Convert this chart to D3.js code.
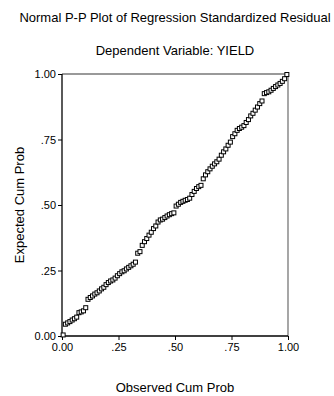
<!DOCTYPE html>
<html><head><meta charset="utf-8">
<script src="https://cdn.jsdelivr.net/npm/d3@7"></script>
<style>body{margin:0;background:#fff}svg{display:block}text{font-family:"Liberation Sans",Arial,sans-serif;fill:#000}</style>
</head><body><svg id="c" width="334" height="396"></svg>
<script>
const title = "Normal P-P Plot of Regression Standardized Residual";
const subtitle = "Dependent Variable: YIELD";
const xLabel = "Observed Cum Prob";
const yLabel = "Expected Cum Prob";
const tickValues = [0, 0.25, 0.5, 0.75, 1];
const tickLabels = ["0.00", ".25", ".50", ".75", "1.00"];
const observed = [.005,.015,.025,.035,.045,.055,.065,.075,.085,.095,
.105,.115,.125,.135,.145,.155,.165,.175,.185,.195,
.205,.215,.225,.235,.245,.255,.265,.275,.285,.295,
.305,.315,.325,.335,.345,.355,.365,.375,.385,.395,
.405,.415,.425,.435,.445,.455,.465,.475,.485,.495,
.505,.515,.525,.535,.545,.555,.565,.575,.585,.595,
.605,.615,.625,.635,.645,.655,.665,.675,.685,.695,
.705,.715,.725,.735,.745,.755,.765,.775,.785,.795,
.805,.815,.825,.835,.845,.855,.865,.875,.885,.895,
.905,.915,.925,.935,.945,.955,.965,.975,.985,.995];
const expected = [.004,.045,.050,.055,.061,.066,.072,.089,.092,.096,
.108,.140,.147,.153,.160,.165,.172,.180,.186,.196,
.204,.210,.214,.221,.230,.238,.245,.249,.256,.262,
.268,.274,.282,.316,.322,.346,.360,.372,.385,.396,
.410,.420,.435,.443,.446,.452,.458,.463,.467,.470,
.496,.503,.510,.514,.518,.521,.526,.540,.552,.563,
.570,.575,.600,.615,.627,.638,.648,.657,.665,.675,
.690,.703,.714,.728,.740,.761,.772,.785,.792,.797,
.803,.815,.826,.840,.850,.862,.874,.887,.897,.925,
.929,.932,.938,.945,.952,.958,.964,.972,.982,.998];

const svg = d3.select("#c");
const L = 62, R = 288, T = 74, B = 336;
const x = d3.scaleLinear().domain([0,1]).range([L,R]);
const y = d3.scaleLinear().domain([0,1]).range([B,T]);

svg.append("text").attr("x",175).attr("y",22).attr("text-anchor","middle").style("font-size","13px").text(title);
svg.append("text").attr("x",175).attr("y",55).attr("text-anchor","middle").style("font-size","13px").text(subtitle);
svg.append("text").attr("x",175).attr("y",392).attr("text-anchor","middle").style("font-size","13px").text(xLabel);
svg.append("text").attr("transform","translate(24,205) rotate(-90)").attr("text-anchor","middle").style("font-size","13px").text(yLabel);

svg.append("line").attr("x1",L).attr("x2",R).attr("y1",T).attr("y2",T).attr("stroke","#777").attr("stroke-width",1.3);
svg.append("line").attr("x1",R).attr("x2",R).attr("y1",T).attr("y2",B).attr("stroke","#777").attr("stroke-width",1.3);

const xa = svg.append("g").attr("transform",`translate(0,${B})`)
  .call(d3.axisBottom(x).tickValues(tickValues).tickFormat((d,i)=>tickLabels[i]).tickSize(4).tickPadding(3));
const ya = svg.append("g").attr("transform",`translate(${L},0)`)
  .call(d3.axisLeft(y).tickValues(tickValues).tickFormat((d,i)=>tickLabels[i]).tickSize(4).tickPadding(2));
[xa,ya].forEach(g=>{
  g.select(".domain").attr("stroke","#000").attr("stroke-width",1.3);
  g.selectAll(".tick line").attr("stroke","#000");
  g.selectAll("text").style("font-size","11px").style("font-family","'Liberation Sans',Arial,sans-serif");
});
ya.select(".domain").attr("d",`M0,${T}V${B}`);
xa.select(".domain").attr("d",`M${L},0H${R}`);

const s = 4;
svg.append("g").selectAll("rect").data(observed).join("rect")
  .attr("x",(d)=>x(d)-s/2).attr("y",(d,i)=>y(expected[i])-s/2)
  .attr("width",s).attr("height",s)
  .attr("fill","#fff").attr("stroke","#000").attr("stroke-width",1);
</script></body></html>
